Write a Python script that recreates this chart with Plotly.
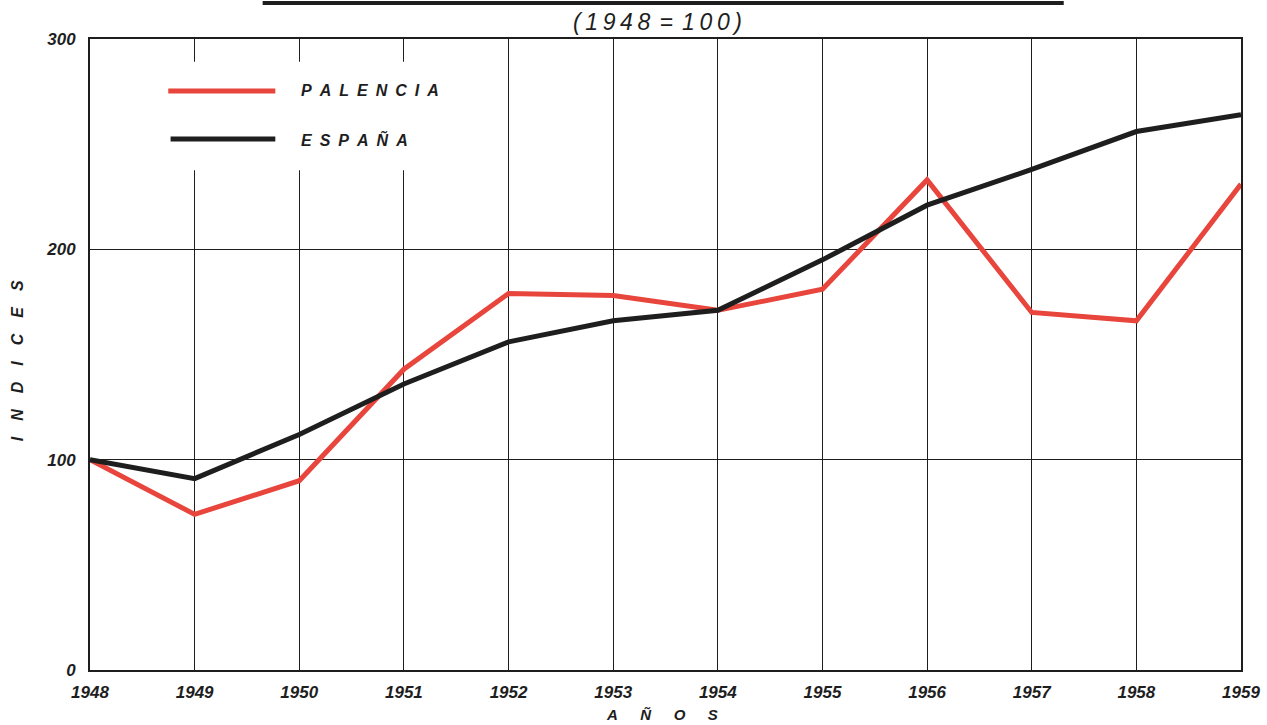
import plotly.graph_objects as go

years = [1948, 1949, 1950, 1951, 1952, 1953, 1954, 1955, 1956, 1957, 1958, 1959]
palencia = [100, 74, 90, 143, 179, 178, 171, 181, 233, 170, 166, 231]
espana = [100, 91, 112, 136, 156, 166, 171, 195, 221, 238, 256, 264]
y_ticks = [0, 100, 200, 300]

RED = "#e8453c"
BLACK = "#1e1e1e"
FONT = "Liberation Sans"

fig = go.Figure()
fig.add_trace(go.Scatter(x=years, y=palencia, mode="lines", name="PALENCIA",
                         line=dict(color=RED, width=5), showlegend=False))
fig.add_trace(go.Scatter(x=years, y=espana, mode="lines", name="ESPAÑA",
                         line=dict(color=BLACK, width=5), showlegend=False))

sp = "\u2002"
thin = "\u2009"
# legend box (white background covering grid)
fig.add_shape(type="rect", xref="paper", yref="paper", x0=0.052, x1=0.313, y0=0.792, y1=0.964,
              fillcolor="white", line=dict(width=0), layer="above")
fig.add_shape(type="line", xref="paper", yref="paper", x0=0.068, x1=0.161, y0=0.9176, y1=0.9176,
              line=dict(color=RED, width=5))
fig.add_shape(type="line", xref="paper", yref="paper", x0=0.070, x1=0.161, y0=0.8415, y1=0.8415,
              line=dict(color=BLACK, width=5))
fig.add_annotation(xref="paper", yref="paper", x=0.182, y=0.9176, xanchor="left", yanchor="middle",
                   text=sp.join("PALENCIA"), showarrow=False,
                   font=dict(family=FONT, size=16, color=BLACK, style="italic", weight="bold"))
fig.add_annotation(xref="paper", yref="paper", x=0.182, y=0.8415, xanchor="left", yanchor="middle",
                   text=sp.join("ESPAÑA"), showarrow=False,
                   font=dict(family=FONT, size=16, color=BLACK, style="italic", weight="bold"))

# title underline (title itself cut off in the scan) and subtitle
fig.add_shape(type="line", xref="paper", yref="paper", x0=0.150, x1=0.846, y0=1.057, y1=1.057,
              line=dict(color=BLACK, width=4))
fig.add_annotation(xref="paper", yref="paper", x=0.493, y=1.027, xanchor="center", yanchor="middle",
                   text=thin.join("(1948=100)").replace("=", thin + "=" + thin), showarrow=False,
                   font=dict(family=FONT, size=23, color=BLACK, style="italic"))

# axis titles
fig.add_annotation(xref="paper", yref="paper", x=0.497, y=-0.071, xanchor="center", yanchor="middle",
                   text=(sp * 3).join("AÑOS"), showarrow=False,
                   font=dict(family=FONT, size=15, color=BLACK, style="italic", weight="bold"))
fig.add_annotation(xref="paper", y=0.49, x=-0.063, yref="paper", xanchor="center", yanchor="middle",
                   text=(sp * 2).join("INDICES"), showarrow=False, textangle=-90,
                   font=dict(family=FONT, size=16, color=BLACK, style="italic", weight="bold"))

fig.update_xaxes(range=[1948, 1959], tickmode="array", tickvals=years,
                 ticktext=[str(y) for y in years], automargin=False,
                 showgrid=True, gridcolor=BLACK, gridwidth=1.2,
                 showline=True, linecolor=BLACK, linewidth=2, mirror=True,
                 zeroline=False, ticks="", ticklabelstandoff=6,
                 tickfont=dict(family=FONT, size=17, color=BLACK, style="italic", weight="bold"))
fig.update_yaxes(range=[0, 300], tickmode="array", tickvals=y_ticks, automargin=False,
                 showgrid=True, gridcolor=BLACK, gridwidth=1.2,
                 showline=True, linecolor=BLACK, linewidth=2, mirror=True,
                 zeroline=False, ticks="", ticklabelstandoff=9,
                 tickfont=dict(family=FONT, size=17, color=BLACK, style="italic", weight="bold"))

fig.update_layout(width=1267, height=725, plot_bgcolor="white", paper_bgcolor="white",
                  margin=dict(l=90, r=26, t=39, b=55), showlegend=False)

# remove the default page margin so the figure fills the window exactly
fig.write_html("out.html", config={"displayModeBar": False},
               post_script="document.body.style.margin='0';document.body.style.overflow='hidden';")
